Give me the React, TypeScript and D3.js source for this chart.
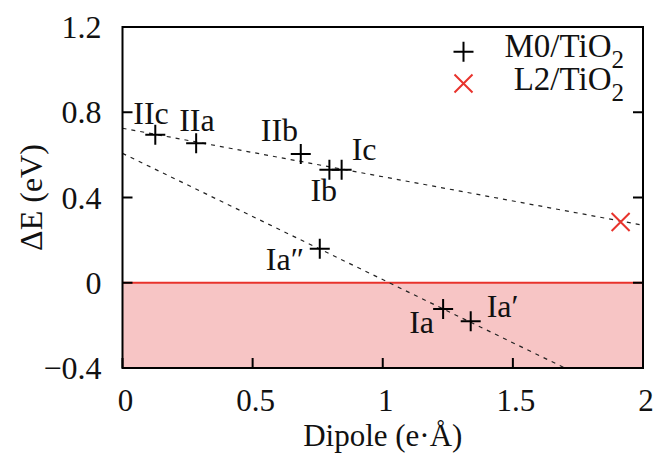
import * as d3 from 'd3';

const W = 657;
const H = 453;
const margin = { left: 122.5, right: 14, top: 27, bottom: 85 };

const xTicks = [0, 0.5, 1, 1.5, 2];
const yTicks = [-0.4, 0, 0.4, 0.8, 1.2];

// M0/TiO2 structures: dipole (e·Å) and ΔE (eV)
const m0Names = ['IIc', 'IIa', 'IIb', 'Ib', 'Ic', 'Ia″', 'Ia', 'Ia′'];
const m0Dipole = [0.126, 0.283, 0.685, 0.795, 0.842, 0.758, 1.232, 1.338];
const m0Energy = [0.694, 0.655, 0.604, 0.53, 0.53, 0.159, -0.123, -0.181];

// L2/TiO2
const l2Dipole = [1.914];
const l2Energy = [0.285];

// dashed guide lines (end points in data units)
const fitStartX = [0, 0];
const fitStartY = [0.725, 0.607];
const fitEndX = [2, 1.7];
const fitEndY = [0.27, -0.4];

// where each name sits relative to its marker, px
const labelShift: Record<string, [number, number]> = {
  IIc: [-22, -11],
  IIa: [-17, -12],
  IIb: [-40, -13],
  Ib: [-19, 31],
  Ic: [10, -10],
  'Ia″': [-54, 21],
  Ia: [-34, 24],
  'Ia′': [16, -4],
};

const FONT = "'Liberation Serif', Tinos, 'Times New Roman', Times, serif";
const RED = '#e8332c';
const FS = 32;

export default function App() {
  const x = d3.scaleLinear().domain([0, 2]).range([margin.left, W - margin.right]);
  const y = d3.scaleLinear().domain([-0.4, 1.2]).range([H - margin.bottom, margin.top]);
  const [x0, x1] = x.range();
  const [y0, y1] = y.range();
  const tick = 10;

  const line = d3.line<[number, number]>().x((d) => x(d[0])).y((d) => y(d[1]));

  return (
    <svg
      width={W}
      height={H}
      style={{ position: 'absolute', left: 0, top: 0, background: '#fff', fontFamily: FONT }}
    >
      {/* unstable region below zero */}
      <rect x={x0} y={y(0)} width={x1 - x0} height={y0 - y(0)} fill="#f7c5c5" />
      <line x1={x0} x2={x1} y1={y(0)} y2={y(0)} stroke={RED} strokeWidth={2} />

      {fitStartX.map((_, i) => (
        <path
          key={i}
          d={line([
            [fitStartX[i], fitStartY[i]],
            [fitEndX[i], fitEndY[i]],
          ]) || ''}
          fill="none"
          stroke="#222"
          strokeWidth={1.2}
          strokeDasharray="4 5"
        />
      ))}

      {/* ticks */}
      {yTicks.map((t) => (
        <g key={'y' + t}>
          <line x1={x0} x2={x0 + tick} y1={y(t)} y2={y(t)} stroke="#000" strokeWidth={2} />
          <line x1={x1} x2={x1 - tick} y1={y(t)} y2={y(t)} stroke="#000" strokeWidth={2} />
          <text x={x0 - 21} y={y(t) + 11} textAnchor="end" fontSize={FS} fill="#111">
            {t < 0 ? '−' + Math.abs(t) : String(t)}
          </text>
        </g>
      ))}
      {xTicks.map((t) => (
        <g key={'x' + t}>
          <line x1={x(t)} x2={x(t)} y1={y0} y2={y0 - tick} stroke="#000" strokeWidth={2} />
          <text x={x(t) + 3} y={y0 + 43} textAnchor="middle" fontSize={31} fill="#111">
            {String(t)}
          </text>
        </g>
      ))}

      <rect x={x0} y={y1} width={x1 - x0} height={y0 - y1} fill="none" stroke="#000" strokeWidth={2} />

      {/* M0 points */}
      {m0Names.map((n, i) => {
        const px = x(m0Dipole[i]);
        const py = y(m0Energy[i]);
        const [dx, dy] = labelShift[n];
        return (
          <g key={n}>
            <path d={`M${px - 10},${py}H${px + 10}M${px},${py - 10}V${py + 10}`} stroke="#000" strokeWidth={2} />
            <text x={px + dx} y={py + dy} fontSize={FS} fill="#111">
              {n}
            </text>
          </g>
        );
      })}

      {l2Dipole.map((d, i) => {
        const px = x(d);
        const py = y(l2Energy[i]);
        return (
          <path
            key={i}
            d={`M${px - 9},${py - 9}L${px + 9},${py + 9}M${px - 9},${py + 9}L${px + 9},${py - 9}`}
            stroke={RED}
            strokeWidth={2}
          />
        );
      })}

      {/* legend */}
      <path d="M453.5,51.7H473.5M463.5,41.7V61.7" stroke="#000" strokeWidth={2} />
      <path d="M454.5,74.5L472.5,92.5M454.5,92.5L472.5,74.5" stroke={RED} strokeWidth={2} />
      <text x={624} y={57} textAnchor="end" fontSize={33} fill="#111">
        M0/TiO<tspan fontSize={25} dy={11}>2</tspan>
      </text>
      <text x={624} y={90} textAnchor="end" fontSize={33} fill="#111">
        L2/TiO<tspan fontSize={25} dy={11}>2</tspan>
      </text>

      <text x={(x0 + x1) / 2} y={446} textAnchor="middle" fontSize={31} fill="#111">
        Dipole (e·Å)
      </text>
      <text
        transform={`translate(42,${(y0 + y1) / 2}) rotate(-90)`}
        textAnchor="middle"
        fontSize={32}
        fill="#111"
      >
        ΔE (eV)
      </text>
    </svg>
  );
}
